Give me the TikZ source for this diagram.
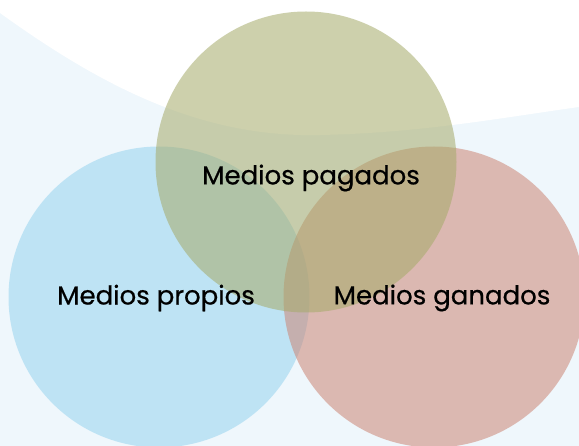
\documentclass[tikz,border=0pt]{standalone}
\usepackage{fontspec}
\setmainfont{Poppins}[FakeBold=0.6]
\definecolor{bgblue}{RGB}{239,247,252}
\definecolor{propio}{RGB}{151,211,239}
\definecolor{ganado}{RGB}{204,133,117}
\definecolor{pagado}{RGB}{165,170,105}

\begin{document}
\begin{tikzpicture}[x=1pt,y=-1pt,
venn/.style={%
circle,
inner sep=0pt,
minimum size=301pt,
fill opacity=0.55,
},
tag/.style={%
font=\fontsize{26}{30}\selectfont,
text=black,
},
]
\useasboundingbox(0,0)rectangle(579,446);
%% background
\fill[bgblue](0,0)rectangle(579,446);
\fill[white](0,0)--(0,13).. controls (100,85) and (200,138) ..(320,135)
.. controls (420,133) and (500,118) ..(579,107)--(579,0)--cycle;
%% circles
\node[venn,fill=propio]at(159,297)(propios){};
\node[venn,fill=ganado]at(434,297)(ganados){};
\node[venn,fill=pagado]at(306,162)(pagados){};
%% labels
\node[tag]at(311,178)(tpag){Medios pagados};
\node[tag]at(156,298)(tpro){Medios propios};
\node[tag]at(442,298)(tgan){Medios ganados};
\end{tikzpicture}
\end{document}
